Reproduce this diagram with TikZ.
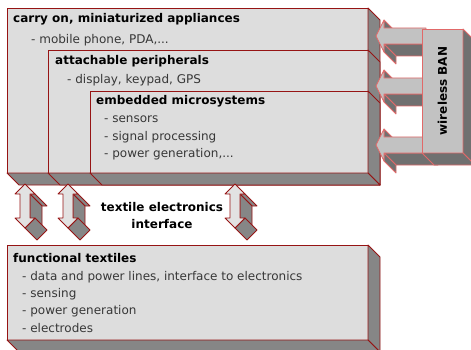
\documentclass[tikz,border=0pt]{standalone}
\usepackage{fontspec}
\setmainfont{DejaVu Sans}
\usepackage{xcolor}
\definecolor{facegray}{RGB}{221,221,221}
\definecolor{sidegray}{RGB}{134,134,134}
\definecolor{darkred}{RGB}{150,20,20}
\definecolor{pinkred}{RGB}{225,105,105}
\definecolor{bangray}{RGB}{194,194,194}
\definecolor{bandark}{RGB}{112,112,112}
\definecolor{arrowwhite}{RGB}{226,226,226}
\definecolor{itemgray}{RGB}{55,55,55}
\usepackage{tikz}
\usetikzlibrary{positioning,calc}
\tikzset{
  face/.style={rectangle,draw=darkred,fill=facegray,line width=0.8pt,anchor=north west,inner sep=0pt,outer sep=0pt},
  side/.style={draw=darkred,fill=sidegray,line width=0.8pt,line join=round},
  banbox/.style={face,draw=pinkred,fill=bangray},
  banside/.style={side,draw=pinkred,fill=bandark},
  banfront/.style={draw=pinkred,fill=bangray,line width=0.8pt,line join=round},
  linkfront/.style={draw=darkred,fill=arrowwhite,line width=0.8pt,line join=round},
  heading/.style={anchor=west,inner sep=0pt,font=\bfseries\fontsize{12}{17}\selectfont},
  item/.style={anchor=west,inner sep=0pt,text=itemgray,font=\fontsize{12}{17}\selectfont}
}
% right and bottom faces of a block
\newcommand{\depthfaces}[1]{%
  \draw[side] (#1.north east) -- ++(12,12) -- ([shift={(12,12)}]#1.south east) -- (#1.south east) -- cycle;
  \draw[side] (#1.south west) -- ++(12,12) -- ([shift={(12,12)}]#1.south east) -- (#1.south east) -- cycle;
}
% block arrow from the wireless BAN, pointing left
\newcommand{\banarrow}[1]{%
  \draw[banside] (384,#1-16) -- (396,#1-4) -- (396,#1+4) -- (384,#1-8) -- cycle;
  \draw[banside] (384,#1+8) -- (426,#1+8) -- (438,#1+20) -- (396,#1+20) -- cycle;
  \draw[banside] (384,#1+8) -- (384,#1+16) -- (396,#1+28) -- (396,#1+20) -- cycle;
  \draw[banfront] (376,#1) -- (384,#1-16) -- (384,#1-8) -- (426,#1-8) -- (426,#1+8) -- (384,#1+8) -- (384,#1+16) -- cycle;
}
% double block arrow, up and down
\newcommand{\duplexarrow}[1]{%
  \draw[side] (#1+5,194) -- (#1+10,194) -- (#1+22,206) -- (#1+17,206) -- cycle;
  \draw[side] (#1+5,194) -- (#1+17,206) -- (#1+17,230) -- (#1+5,218) -- cycle;
  \draw[side] (#1+10,218) -- (#1+22,230) -- (#1+12,240) -- (#1,228) -- cycle;
  \draw[linkfront] (#1,184) -- (#1+10,194) -- (#1+5,194) -- (#1+5,218) -- (#1+10,218)
    -- (#1,228) -- (#1-10,218) -- (#1-5,218) -- (#1-5,194) -- (#1-10,194) -- cycle;
}

\begin{document}
\begin{tikzpicture}[x=1pt,y=-1pt]
  \useasboundingbox (0,0) rectangle (471,350);
  \clip (0,0) rectangle (471,350);

  % nested appliance blocks
  \node[face,minimum width=361pt,minimum height=165pt] (carry) at (7,8) {};
  \depthfaces{carry}
  \node[face,minimum width=320pt,minimum height=123pt] (attach) at (48,50) {};
  \depthfaces{attach}
  \node[face,minimum width=278pt,minimum height=82pt] (embed) at (90,91) {};
  \depthfaces{embed}

  \node[heading] (carryhead) at (13,19) {carry on, miniaturized appliances};
  \node[item] (carryitem) at (31,40) {- mobile phone, PDA,...};
  \node[heading] (attachhead) at (55,61) {attachable peripherals};
  \node[item] (attachitem) at (67,80) {- display, keypad, GPS};
  \node[heading] (embedhead) at (96,101) {embedded microsystems};
  \node[item] (sensors) at (104,119) {- sensors};
  \node[item] (signal) at (104,137) {- signal processing};
  \node[item] (power) at (104,154) {- power generation,...};

  % textile block
  \node[face,minimum width=361pt,minimum height=95pt] (textile) at (7,245) {};
  \depthfaces{textile}
  \node[heading] (texthead) at (13,258) {functional textiles};
  \node[item] (lines) at (22,277) {- data and power lines, interface to electronics};
  \node[item] (sensing) at (22,294) {- sensing};
  \node[item] (gen) at (22,311) {- power generation};
  \node[item] (electrodes) at (22,328) {- electrodes};

  % interface arrows
  \duplexarrow{25}
  \duplexarrow{68}
  \duplexarrow{235}
  \node[heading,anchor=center,align=center] (iface) at (162,215.5) {textile electronics\\interface};

  % wireless BAN
  \banarrow{36}
  \banarrow{86}
  \banarrow{145}
  \node[banbox,minimum width=41pt,minimum height=124pt] (ban) at (422,29) {};
  \draw[banside] (ban.north east) -- ++(12,12) -- ([shift={(12,12)}]ban.south east) -- (ban.south east) -- cycle;
  \draw[banside] (ban.south west) -- ++(12,12) -- ([shift={(12,12)}]ban.south east) -- (ban.south east) -- cycle;
  \node[heading,anchor=center,rotate=90] (banlabel) at (ban.center) {wireless BAN};
\end{tikzpicture}
\end{document}
